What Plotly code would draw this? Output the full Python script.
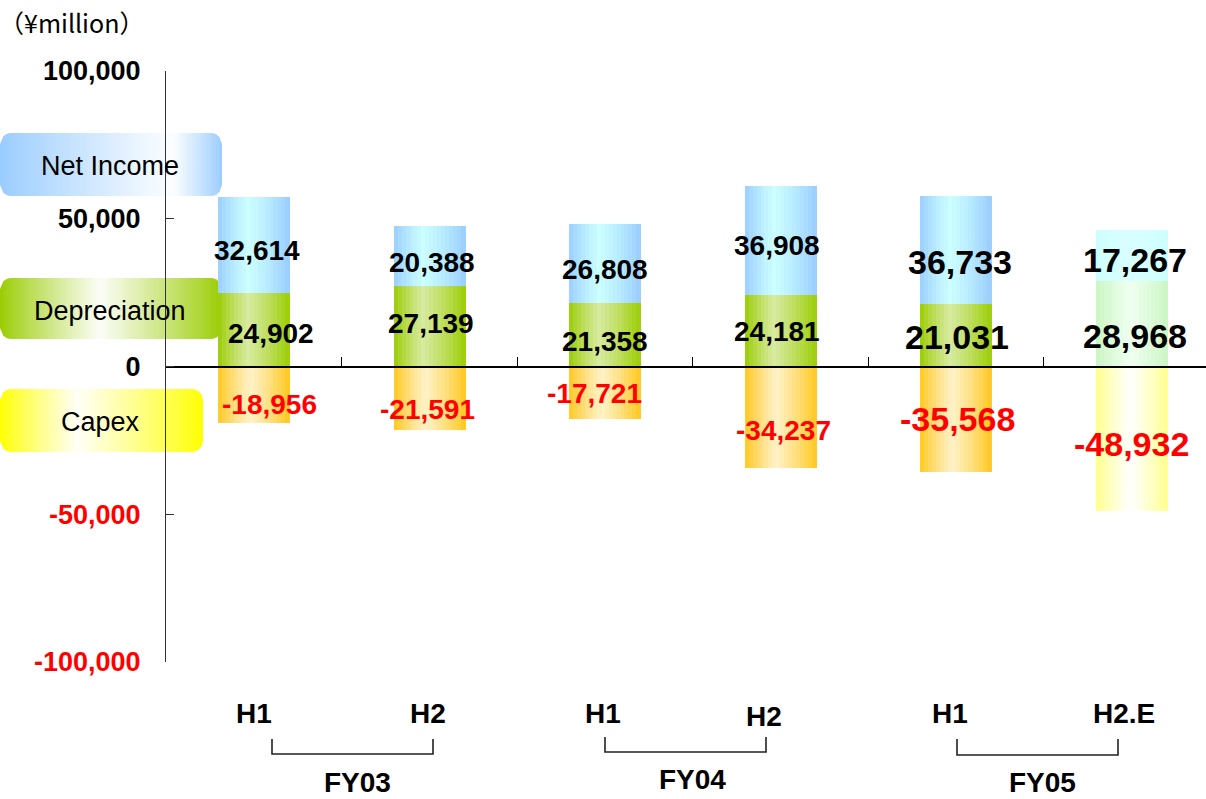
import plotly.graph_objects as go

# ---------------- data ----------------
periods = ["H1", "H2", "H1", "H2", "H1", "H2.E"]
fiscal_years = ["FY03", "FY04", "FY05"]
net_income = [32614, 20388, 26808, 36908, 36733, 17267]
depreciation = [24902, 27139, 21358, 24181, 21031, 28968]
capex = [-18956, -21591, -17721, -34237, -35568, -48932]
y_ticks = [100000, 50000, 0, -50000, -100000]
unit_label = "（¥million）"
legend_labels = ["Net Income", "Depreciation", "Capex"]

# ---------------- layout geometry (pixels) ----------------
W, H = 1206, 799
L, R, T, B = 166, 1206, 71, 662
FONT = "Liberation Sans, Arial, sans-serif"


def px(x):
    return (x - L) / (R - L)


def py(y):
    return (B - y) / (B - T)


def hex2rgb(h):
    h = h.lstrip("#")
    return tuple(int(h[i:i + 2], 16) for i in (0, 2, 4))


def blend(c1, c2, f):
    a, b = hex2rgb(c1), hex2rgb(c2)
    return "rgb(%d,%d,%d)" % tuple(round(a[i] + (b[i] - a[i]) * f) for i in range(3))


def profile(t, peak, power=0.8):
    if t <= peak:
        v = t / peak if peak > 0 else 1
    else:
        v = (1 - t) / (1 - peak)
    v = max(0.0, min(1.0, v))
    return v ** power


def text_at(x, y, text, size, color="black", family=FONT):
    fig.add_annotation(
        x=px(x), y=py(y), xref="paper", yref="paper", text=text, showarrow=False,
        xanchor="center", yanchor="middle",
        font=dict(family=family, size=size, color=color),
    )


xs = list(range(len(periods)))
n = len(xs)
fig = go.Figure()

# ---------------- gradient bars (drawn as vertical strips) ----------------
BW = 0.405
NS = 18
styles = {
    "ni": [("#99ccff", "#ccffff", 0.42), ("#ccffff", "#d9ffff", 0.5)],
    "dep": [("#99cc00", "#d8eaa0", 0.42), ("#c8f5c0", "#effff0", 0.5)],
    "cap": [("#ffc61a", "#fff2c8", 0.45), ("#ffff88", "#ffffff", 0.5)],
}
series = [
    ("dep", depreciation, [0] * n),
    ("ni", net_income, depreciation),
    ("cap", capex, [0] * n),
]
for key, vals, base in series:
    for k in range(NS):
        t = (k + 0.5) / NS
        cols = []
        for i in xs:
            e, c, p = styles[key][1 if periods[i].endswith(".E") else 0]
            cols.append(blend(e, c, profile(t, p)))
        fig.add_trace(go.Bar(
            x=xs, y=vals, base=base,
            width=BW / NS * 1.25, offset=-BW / 2 + k * BW / NS,
            marker=dict(color=cols, line=dict(width=0)),
            hoverinfo="skip", showlegend=False,
        ))

# ---------------- value labels ----------------
big = [28, 28, 28, 28, 34, 34]
lab_dx = {
    "ni": [3, 3, 0, -3, 4, 4],
    "dep": [17, 2, 0, -3, 1, 4],
    "cap": [16, -2, -10, 3, 2, 0],
}
lab_dy = {
    "ni": [-6, -6, -6, -5, -12, -5],
    "dep": [-4, 3, -7, -1, -2, -12],
    "cap": [-10, -11, -1, -13, 0, -5],
}
for key, vals, base in series:
    for i in xs:
        mid = base[i] + vals[i] / 2
        fig.add_annotation(
            x=i, y=mid, xref="x", yref="y",
            text="<b>%s</b>" % format(vals[i], ","),
            showarrow=False, xshift=lab_dx[key][i], yshift=lab_dy[key][i],
            xanchor="center", yanchor="middle",
            font=dict(family=FONT, size=big[i], color="red" if vals[i] < 0 else "black"),
        )

# ---------------- category labels & brackets ----------------
h_dx = [0, -1, -2, -16, -6, -7]
h_y = [713, 713, 713, 716, 713, 713]
for i in xs:
    fig.add_annotation(
        x=i, xref="x", y=py(h_y[i]), yref="paper", xshift=h_dx[i],
        xanchor="center", yanchor="middle",
        text="<b>%s</b>" % periods[i], showarrow=False,
        font=dict(family=FONT, size=28, color="black"),
    )
brackets = [(272, 433, 739, 754, 357, 782), (605, 766, 737, 752, 692, 779), (957, 1118, 739, 755, 1042, 782)]
for fy, (x0, x1, y0, y1, lx, ly) in zip(fiscal_years, brackets):
    fig.add_shape(
        type="path", xref="paper", yref="paper",
        path="M %f,%f L %f,%f L %f,%f L %f,%f" % (px(x0), py(y0), px(x0), py(y1), px(x1), py(y1), px(x1), py(y0)),
        line=dict(color="#222222", width=1.6),
    )
    text_at(lx, ly, "<b>%s</b>" % fy, 28)

# ---------------- legend boxes with gradients ----------------
boxes = [
    (0, 222, 133, 196, "#99ccff", 0.78, 110, 166),
    (0, 222, 278, 339, "#99cc00", 0.45, 110, 311),
    (0, 203, 389, 452, "#ffff00", 0.38, 100, 422),
]
RAD = 11


def edge_y(x, x0, x1, y0, y1):
    dx = min(x - x0, x1 - x)
    if dx >= RAD:
        return y0, y1
    dx = max(dx, 0)
    d = RAD - (RAD * RAD - (RAD - dx) ** 2) ** 0.5
    return y0 + d, y1 - d


for (bx0, bx1, by0, by1, col, peak, tx, ty), lab in zip(boxes, legend_labels):
    step = 3
    x = bx0
    while x < bx1:
        a, b = x, min(x + step, bx1)
        t = ((a + b) / 2 - bx0) / (bx1 - bx0)
        f = profile(t, peak, 0.9)
        c = blend(col, "#ffffff", f * 0.97)
        ta, ba = edge_y(a, bx0, bx1, by0, by1)
        bo = min(b + 0.6, bx1)
        tbo, bbo = edge_y(bo, bx0, bx1, by0, by1)
        fig.add_shape(
            type="path", xref="paper", yref="paper", layer="below",
            path="M %f,%f L %f,%f L %f,%f L %f,%f Z" % (
                px(a), py(ta), px(bo), py(tbo), px(bo), py(bbo), px(a), py(ba)),
            fillcolor=c, line=dict(width=0),
        )
        x += step
    text_at(tx, ty, lab, 27)

# unit label
text_at(71, 22, unit_label, 25, family="Noto Sans CJK JP")

# ---------------- axes ----------------
tick_text = [
    ("<span style='color:red'>%s</span>" % format(v, ",")) if v < 0 else format(v, ",")
    for v in y_ticks
]
fig.update_layout(
    width=W, height=H,
    margin=dict(l=L, r=W - R, t=T, b=H - B, autoexpand=False),
    paper_bgcolor="white", plot_bgcolor="white",
    barmode="overlay", bargap=0,
    showlegend=False,
    xaxis=dict(
        range=[-0.5, -0.5 + (R - L) / 175.5], showgrid=False, zeroline=False,
        anchor="free", position=0.5,
        showline=True, linecolor="black", linewidth=1.5,
        tickmode="array", tickvals=[i + 0.5 for i in xs[:-1]], ticktext=[""] * (n - 1),
        ticks="inside", ticklen=9, tickcolor="black", tickwidth=1,
        showticklabels=False,
    ),
    yaxis=dict(
        range=[-100000, 100000], showgrid=False, zeroline=False,
        showline=True, linecolor="#333333", linewidth=1,
        tickmode="array", tickvals=y_ticks, ticktext=tick_text,
        ticks="inside", ticklen=8, tickcolor="#333333",
        tickfont=dict(family=FONT, size=27, color="black", weight="bold"),
        ticklabelstandoff=19,
    ),
)

fig.write_html("out.html")
